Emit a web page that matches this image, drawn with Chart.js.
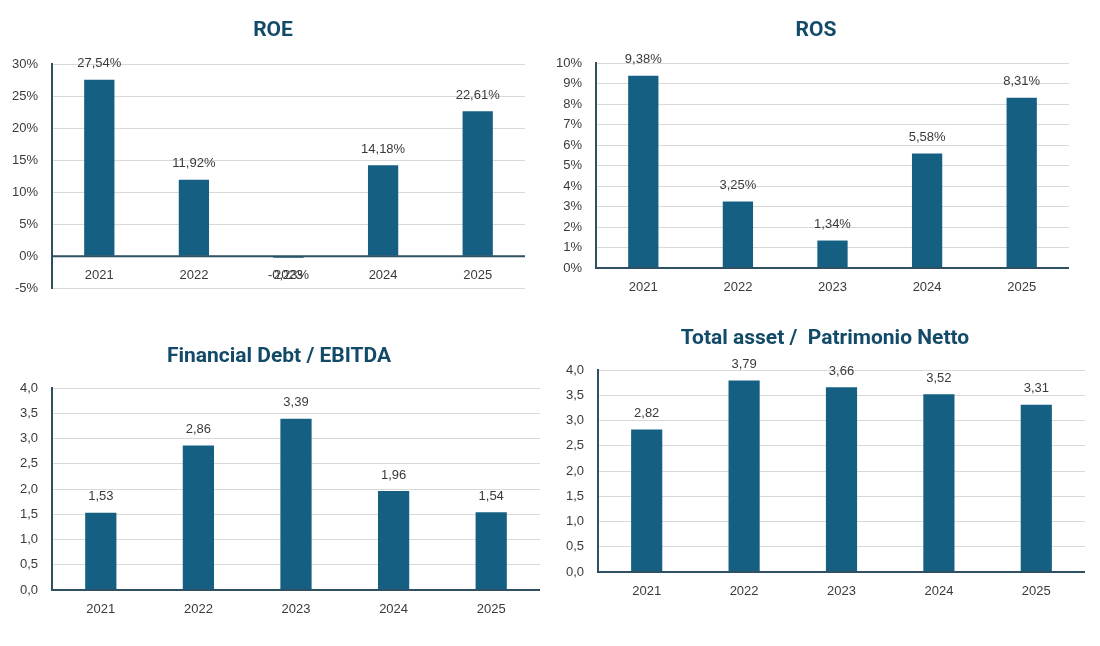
<!DOCTYPE html>
<html>
<head>
<meta charset="utf-8">
<script src="https://cdn.jsdelivr.net/npm/chart.js@4.4.1/dist/chart.umd.min.js"></script>
<style>
  html, body { margin: 0; padding: 0; background: #ffffff; overflow: hidden; }
  body { width: 1100px; height: 646px; position: relative; }
  canvas { position: absolute; }
</style>
</head>
<body>
<canvas id="roe" width="550" height="310" style="left:0px;top:0px;width:550px;height:310px"></canvas>
<canvas id="ros" width="550" height="310" style="left:550px;top:0px;width:550px;height:310px"></canvas>
<canvas id="fd" width="550" height="320" style="left:0px;top:320px;width:550px;height:320px"></canvas>
<canvas id="ta" width="550" height="320" style="left:550px;top:310px;width:550px;height:320px"></canvas>
<script>
// ---- data ----
const categories = ['2021', '2022', '2023', '2024', '2025'];

const roeValues = [27.54, 11.92, -0.23, 14.18, 22.61];
const rosValues = [9.38, 3.25, 1.34, 5.58, 8.31];
const fdValues = [1.53, 2.86, 3.39, 1.96, 1.54];
const taValues = [2.82, 3.79, 3.66, 3.52, 3.31];

const roeTicks = ['-5%', '0%', '5%', '10%', '15%', '20%', '25%', '30%'];
const rosTicks = ['0%', '1%', '2%', '3%', '4%', '5%', '6%', '7%', '8%', '9%', '10%'];
const fdTicks = ['0,0', '0,5', '1,0', '1,5', '2,0', '2,5', '3,0', '3,5', '4,0'];
const taTicks = ['0,0', '0,5', '1,0', '1,5', '2,0', '2,5', '3,0', '3,5', '4,0'];

// ---- styles ----
const BAR = '#156082';
const AXIS = '#2f4f62';
const GRID = '#d9d9d9';
const TEXT = '#3a3a3a';
const TITLE = '#124a68';
const FONT = "'Liberation Sans', Arial, sans-serif";
const TITLE_FONT = "bold 21px Roboto, 'Liberation Sans', sans-serif";

const fmt = (v, dec, pct) => v.toFixed(dec).replace('.', ',') + (pct ? '%' : '');

const overlayPlugin = {
  id: 'overlay',
  afterDatasetsDraw(chart, args, opts) {
    const ctx = chart.ctx;
    const xs = chart.scales.x, ys = chart.scales.y;
    const y0 = ys.getPixelForValue(0);
    ctx.save();
    // zero axis line
    ctx.strokeStyle = AXIS;
    ctx.lineWidth = 2;
    ctx.beginPath();
    ctx.moveTo(chart.chartArea.left, y0);
    ctx.lineTo(chart.chartArea.right, y0);
    ctx.stroke();
    // title
    ctx.fillStyle = TITLE;
    ctx.font = TITLE_FONT;
    ctx.textAlign = 'center';
    ctx.textBaseline = 'middle';
    ctx.fillText(opts.title, opts.tx, opts.ty);
    // category labels next to the axis
    ctx.fillStyle = TEXT;
    ctx.font = '13px ' + FONT;
    chart.data.labels.forEach((lab, i) => {
      ctx.fillText(lab, xs.getPixelForValue(i), y0 + 19);
    });
    // data labels
    const meta = chart.getDatasetMeta(0);
    const data = chart.data.datasets[0].data;
    meta.data.forEach((bar, i) => {
      const v = data[i];
      const y = v >= 0 ? bar.y - 16 : bar.y + 18;
      ctx.fillText(fmt(v, 2, opts.pct), bar.x, y);
    });
    ctx.restore();
  }
};

function makeChart(id, values, ticks, cfg) {
  const tickVals = ticks.map(t => parseFloat(t.replace(',', '.').replace('%', '')));
  new Chart(document.getElementById(id), {
    type: 'bar',
    data: {
      labels: categories,
      datasets: [{
        data: values,
        backgroundColor: BAR,
        borderWidth: 0,
        barPercentage: 0.32,
        categoryPercentage: 1.0
      }]
    },
    options: {
      responsive: false,
      animation: false,
      devicePixelRatio: 1,
      layout: { padding: { left: 0, right: cfg.pr, top: cfg.pt, bottom: cfg.pb } },
      plugins: {
        legend: { display: false },
        tooltip: { enabled: false },
        title: { display: false },
        overlay: { pct: cfg.pct, title: cfg.title, tx: cfg.tx, ty: cfg.ty }
      },
      scales: {
        x: { display: false },
        y: {
          min: tickVals[0],
          max: tickVals[tickVals.length - 1],
          afterFit(scale) { scale.width = cfg.yw; },
          afterBuildTicks(scale) { scale.ticks = tickVals.map(v => ({ value: v })); },
          ticks: {
            color: TEXT,
            font: { family: FONT, size: 13 },
            padding: 14,
            callback(value) {
              const idx = tickVals.findIndex(t => Math.abs(t - value) < 1e-9);
              return idx >= 0 ? ticks[idx] : '';
            }
          },
          grid: {
            drawTicks: false,
            color: GRID,
            lineWidth: 1
          },
          border: { display: true, color: AXIS, width: 2 }
        }
      }
    },
    plugins: [overlayPlugin]
  });
}

makeChart('roe', roeValues, roeTicks, { title: 'ROE', pct: true, pr: 25, pt: 64, pb: 21, yw: 52, tx: 273, ty: 31 });
makeChart('ros', rosValues, rosTicks, { title: 'ROS', pct: true, pr: 31, pt: 63, pb: 42, yw: 46, tx: 266, ty: 31 });
makeChart('fd', fdValues, fdTicks, { title: 'Financial Debt / EBITDA', pct: false, pr: 10, pt: 68, pb: 50, yw: 52, tx: 279, ty: 37 });
makeChart('ta', taValues, taTicks, { title: 'Total asset /  Patrimonio Netto', pct: false, pr: 15, pt: 60, pb: 58, yw: 48, tx: 275, ty: 29 });
</script>
</body>
</html>
